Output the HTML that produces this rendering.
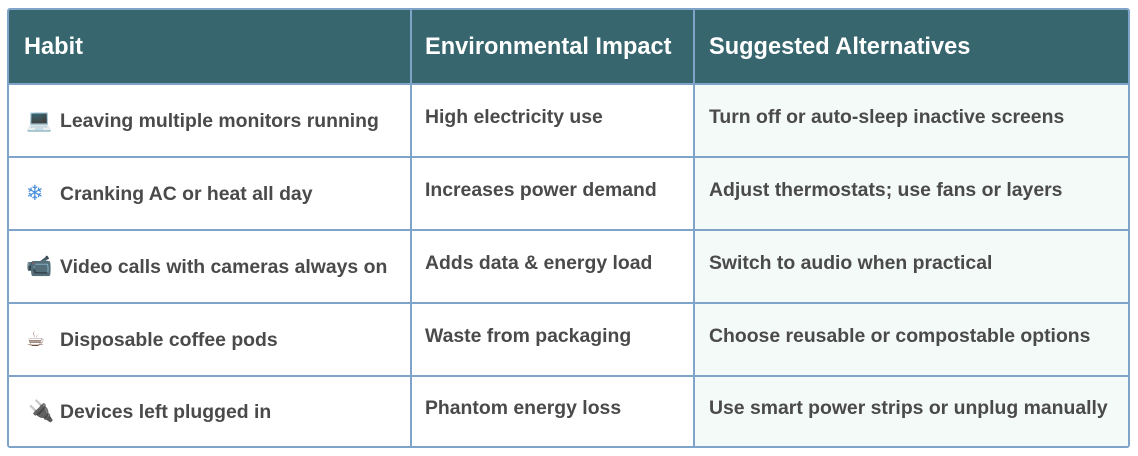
<!DOCTYPE html>
<html><head><meta charset="utf-8"><style>
body{margin:0;width:1138px;height:456px;background:#fff;font-family:"Liberation Sans",Arial,sans-serif;position:relative;overflow:hidden}
.t{position:absolute;left:7px;top:8px;width:1119px;height:436px;border:2px solid #7fa3c9;border-radius:3px;overflow:hidden;background:#fff}
.h{position:absolute;left:0;top:0;width:100%;height:73px;background:#37666e}
.c3{position:absolute;left:685px;top:73px;right:0;bottom:0;background:#f4faf8}
.v{position:absolute;top:0;bottom:0;width:2px;background:#7fa3c9}
.r{position:absolute;left:0;right:0;height:2px;background:#7fa3c9}
.x{position:absolute;font-weight:bold;font-size:19.4px;color:#4a4a4a;white-space:nowrap;line-height:22px}
.hx{position:absolute;font-weight:bold;font-size:23.6px;color:#fff;white-space:nowrap;line-height:26px;top:24px}
.i{position:absolute;font-size:21px;line-height:24px;font-family:"DejaVu Sans",sans-serif}
</style></head><body>
<div class="t">
<div class="h"></div><div class="c3"></div>
<div class="r" style="top:73px"></div>
<div class="r" style="top:146px"></div>
<div class="r" style="top:219px"></div>
<div class="r" style="top:292px"></div>
<div class="r" style="top:365px"></div>
<div class="v" style="left:401px"></div>
<div class="v" style="left:684px"></div>
<div class="hx" style="left:15px">Habit</div>
<div class="hx" style="left:416px">Environmental Impact</div>
<div class="hx" style="left:700px">Suggested Alternatives</div>

<div class="i" style="left:17px;top:98px;color:#5aa0d8">💻</div>
<div class="x" style="left:51px;top:100px">Leaving multiple monitors running</div>
<div class="x" style="left:416px;top:96px">High electricity use</div>
<div class="x" style="left:700px;top:96px">Turn off or auto-sleep inactive screens</div>

<div class="i" style="left:17px;top:171px;color:#4a90d9">❄</div>
<div class="x" style="left:51px;top:173px">Cranking AC or heat all day</div>
<div class="x" style="left:416px;top:169px">Increases power demand</div>
<div class="x" style="left:700px;top:169px">Adjust thermostats; use fans or layers</div>

<div class="i" style="left:17px;top:244px;color:#555">📹</div>
<div class="x" style="left:51px;top:246px">Video calls with cameras always on</div>
<div class="x" style="left:416px;top:242px">Adds data &amp; energy load</div>
<div class="x" style="left:700px;top:242px">Switch to audio when practical</div>

<div class="i" style="left:17px;top:317px;color:#6b4a3a">☕</div>
<div class="x" style="left:51px;top:319px">Disposable coffee pods</div>
<div class="x" style="left:416px;top:315px">Waste from packaging</div>
<div class="x" style="left:700px;top:315px">Choose reusable or compostable options</div>

<div class="i" style="left:19px;top:389px;color:#222">🔌</div>
<div class="x" style="left:51px;top:391px">Devices left plugged in</div>
<div class="x" style="left:416px;top:387px">Phantom energy loss</div>
<div class="x" style="left:700px;top:387px">Use smart power strips or unplug manually</div>
</div>
</body></html>
